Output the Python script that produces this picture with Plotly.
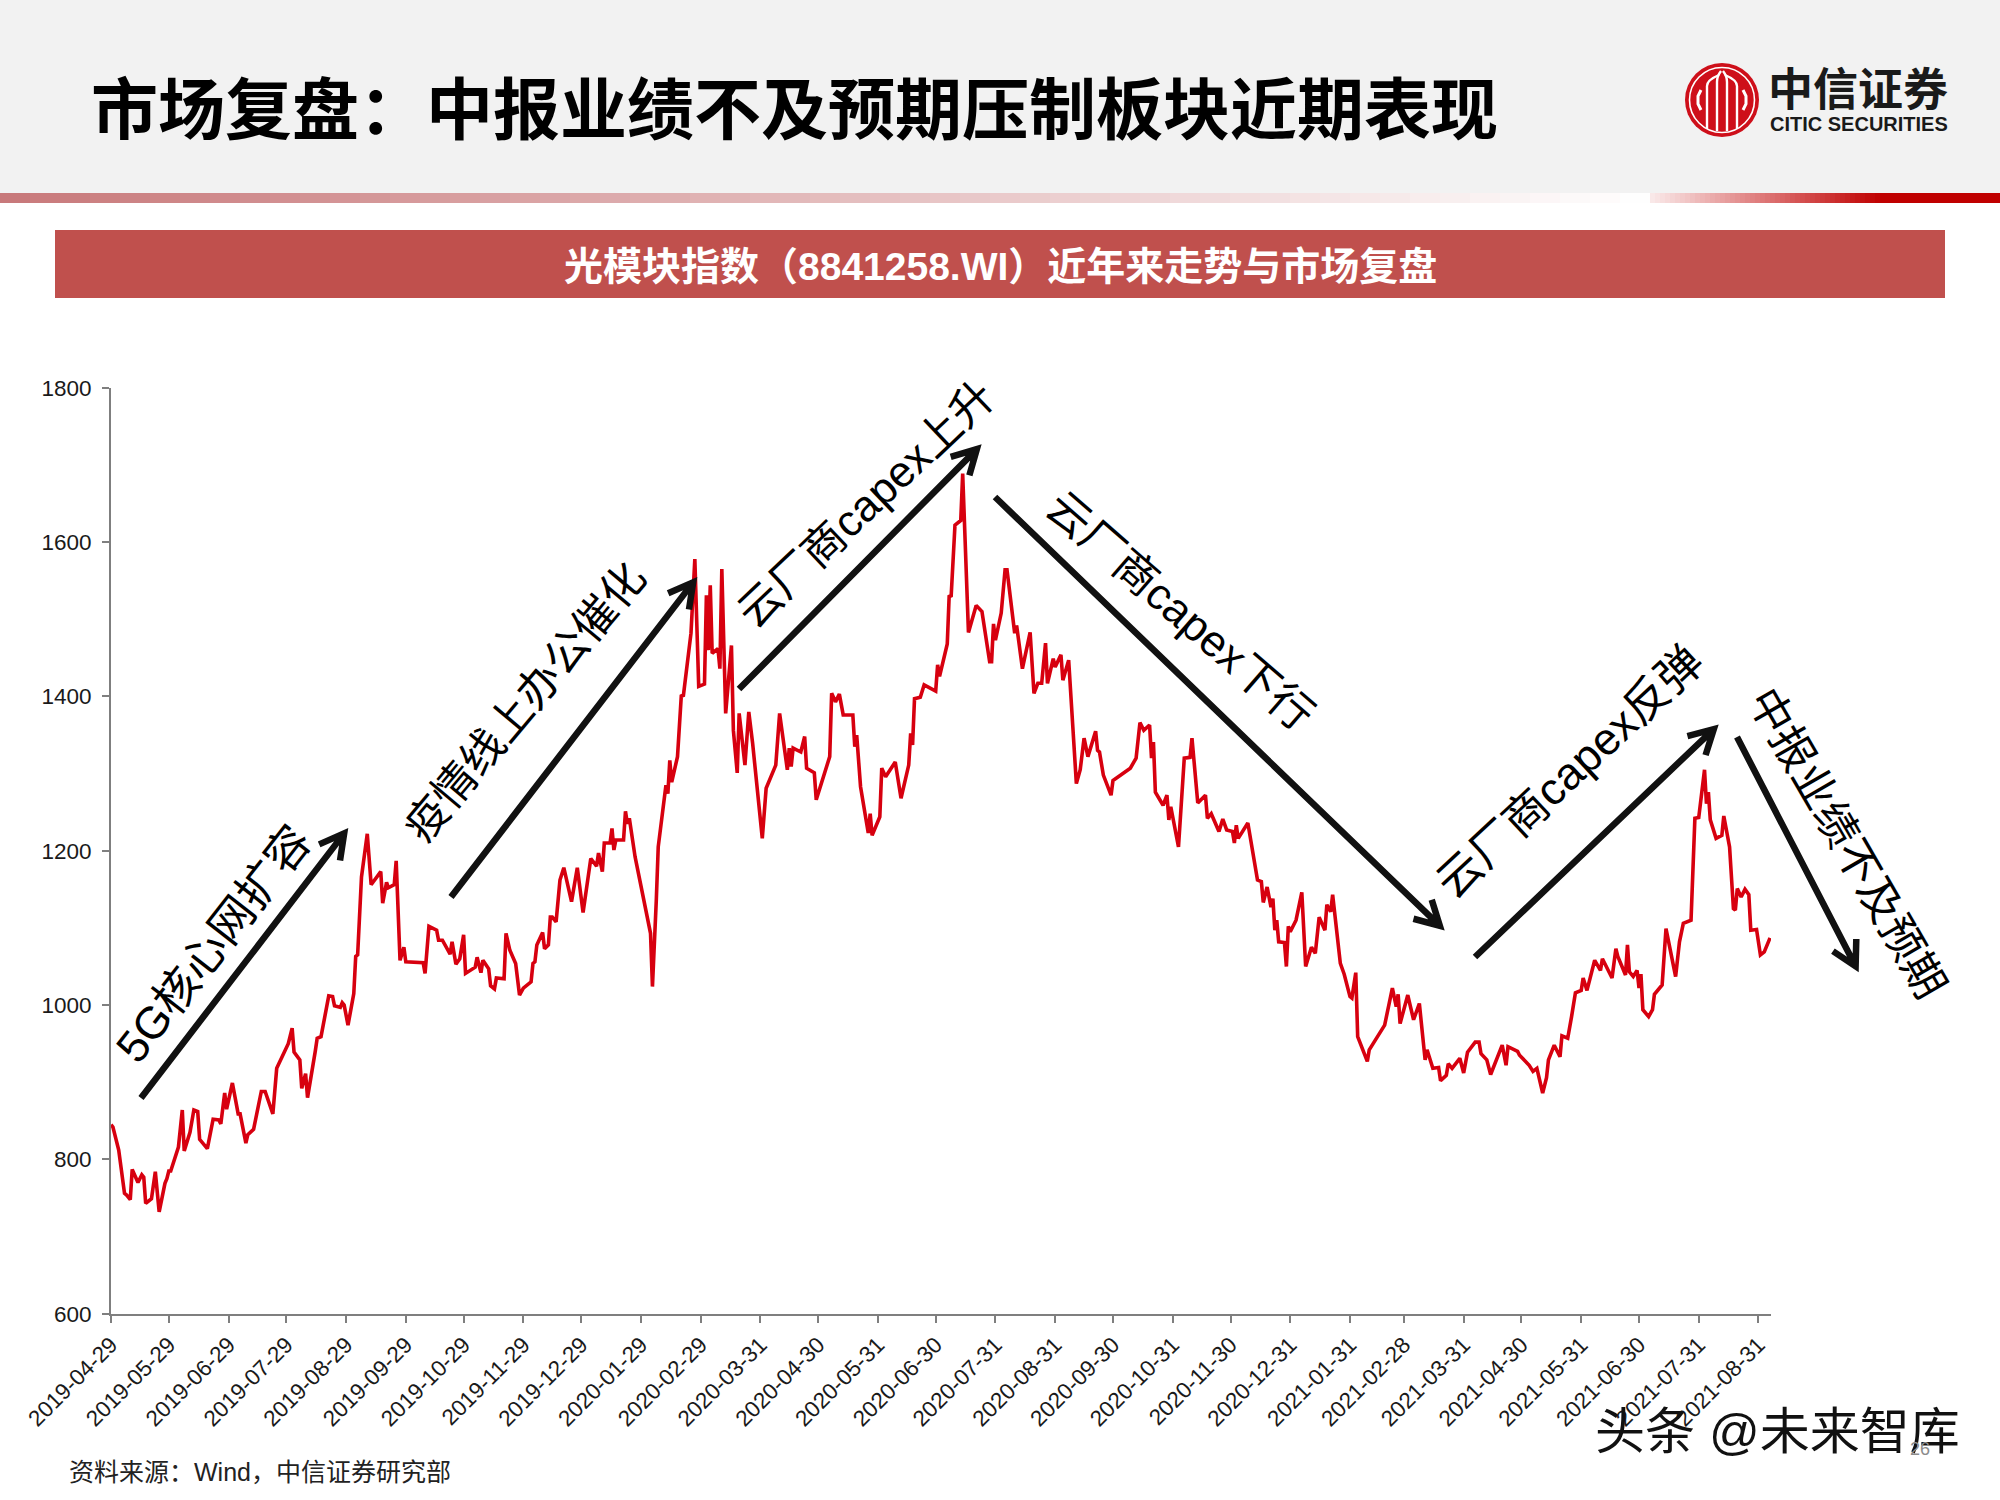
import math
from datetime import date, timedelta
import plotly.graph_objects as go

# ---------- data ----------
START = date(2019, 4, 29)
day_offset = [0,1,4,7,8,10,11,14,16,17,18,21,23,25,28,29,30,31,35,37,38,41,43,45,46,50,53,56,57,59,60,63,66,67,70,71,74,78,80,81,84,86,92,94,95,98,99,101,102,106,107,109,112,113,115,116,119,120,121,123,126,127,128,130,133,135,140,141,143,144,147,148,150,152,153,162,163,165,169,170,172,176,177,179,181,183,184,189,190,192,193,196,197,199,200,204,205,207,210,212,214,218,219,220,221,224,225,227,228,229,231,233,235,239,242,245,249,252,253,255,256,259,260,261,262,266,267,268,269,272,280,281,
283,284,288,289,290,291,294,296,297,301,303,305,308,309,310,311,312,315,316,317,319,322,323,325,326,329,331,333,338,340,345,347,351,352,353,354,358,360,361,365,366,373,374,376,378,380,385,386,387,389,393,394,395,399,400,402,407,410,414,415,416,417,420,422,428,429,430,434,435,436,438,441,442,445,449,452,456,457,458,459,462,464,465,467,469,470,473,477,479,481,483,485,486,489,490,493,494,497,501,503,505,507,511,512,513,515,519,520,529,532,534,536,539,540,541,542,546,548,549,550,554,557,560,561,564,568,569,571,575,577,579,582,583,584,585,590,
595,597,598,600,602,603,604,605,606,609,610,611,612,615,618,620,623,625,627,630,631,633,634,638,640,643,644,646,647,652,653,661,665,667,668,669,673,674,676,679,682,683,686,689,690,693,694,696,700,702,704,708,710,711,714,716,722,724,725,730,731,736,738,740,743,745,746,749,752,753,756,758,760,763,764,766,770,773,774,779,781,782,784,786,787,788,790,792,793,794,795,797,798,800,801,805,807,812,814,816,820,822,824,827,828,829,830,833,836,837,840,842,843,844,846,848,850,851,854,856,858,861]
index_close = [845,842,812,756,754,748,787,770,780,777,743,749,784,732,769,775,785,785,816,864,811,835,864,862,826,814,852,851,846,886,865,899,859,859,821,832,839,888,888,881,859,918,950,970,939,929,892,911,880,940,957,959,998,1012,1011,999,997,1003,1000,974,1015,1063,1065,1166,1222,1156,1173,1132,1159,1152,1156,1187,1058,1075,1056,1055,1041,1102,1097,1084,1084,1066,1082,1053,1060,1091,1041,1049,1062,1042,1058,1047,1025,1021,1035,1034,1093,1071,1054,1013,1022,1030,1054,1056,1078,1094,1073,1078,1114,1114,1108,1162,1178,1134,1178,1120,1190,1180,1197,1173,1210,1210,1229,1201,1214,1214,1251,1235,1242,1192,1093,1024,
1136,1205,1285,1274,1317,1289,1322,1402,1400,1482,1578,1413,1416,1531,1460,1544,1456,1462,1436,1565,1378,1466,1356,1301,1378,1311,1380,1339,1216,1281,1311,1378,1305,1333,1309,1333,1328,1348,1307,1301,1266,1322,1404,1393,1403,1376,1376,1335,1350,1283,1223,1248,1220,1244,1307,1296,1315,1268,1311,1352,1337,1397,1399,1415,1407,1441,1426,1468,1531,1529,1622,1628,1689,1483,1518,1510,1445,1445,1494,1473,1508,1564,1564,1521,1482,1492,1436,1483,1404,1417,1417,1469,1417,1449,1438,1454,1421,1447,1287,1305,1346,1322,1355,1330,1328,1298,1272,1291,1307,1320,1366,1356,1363,1320,1341,1276,1259,1272,1240,1257,1205,1320,1321,1346,1262,1272,1242,1248,1225,1241,1227,1225,1210,1233,1216,1236,
1162,1160,1133,1153,1127,1138,1097,1110,1082,1081,1050,1102,1095,1110,1146,1050,1075,1067,1114,1097,1130,1121,1143,1054,1040,1011,1009,1042,959,927,942,974,1022,998,1014,976,1013,1002,981,1002,929,942,918,919,902,909,924,918,931,912,939,952,952,937,929,910,948,922,946,940,935,922,914,918,886,906,929,948,933,960,957,985,1016,1019,1035,1019,1058,1045,1060,1035,1073,1063,1050,1039,1078,1043,1037,1045,1022,1040,994,987,985,994,1014,1026,1099,1037,1082,1106,1110,1242,1243,1305,1261,1276,1240,1216,1220,1245,1205,1125,1123,1151,1140,1150,1143,1097,1098,1065,1069,1087]
tick_labels = ["2019-04-29","2019-05-29","2019-06-29","2019-07-29","2019-08-29","2019-09-29","2019-10-29","2019-11-29","2019-12-29","2020-01-29","2020-02-29","2020-03-31","2020-04-30","2020-05-31","2020-06-30","2020-07-31","2020-08-31","2020-09-30","2020-10-31","2020-11-30","2020-12-31","2021-01-31","2021-02-28","2021-03-31","2021-04-30","2021-05-31","2021-06-30","2021-07-31","2021-08-31"]
y_ticks = [600,800,1000,1200,1400,1600,1800]

TITLE = "市场复盘：中报业绩不及预期压制板块近期表现"
BANNER = "光模块指数（8841258.WI）近年来走势与市场复盘"
SOURCE = "资料来源：Wind，中信证券研究部"
WATERMARK = "头条 @未来智库"

# ---------- helpers (page pixels -> paper fractions) ----------
W, H = 2000, 1500
FONT = "Liberation Sans, Noto Sans CJK SC"
def px(x): return x / W
def py(y): return 1 - y / H

shapes, annos = [], []
def rect(x0, y0, x1, y1, color):
    shapes.append(dict(type="rect", xref="paper", yref="paper", x0=px(x0), x1=px(x1), y0=py(y0), y1=py(y1),
                       fillcolor=color, line=dict(width=0), layer="below"))
def text(x, y, s, size, color="#000000", angle=0, anchor="center", family=FONT):
    annos.append(dict(xref="paper", yref="paper", x=px(x), y=py(y), text=s, showarrow=False, textangle=angle,
                      xanchor=anchor, yanchor="middle", font=dict(size=size, color=color, family=family)))
def mix(a, b, t):
    return "rgb(%d,%d,%d)" % tuple(round(a[i] + (b[i] - a[i]) * t) for i in range(3))
def arrow(x0, y0, x1, y1):
    th = math.atan2(y1 - y0, x1 - x0)
    L, half = 30, math.radians(26)
    a = (x1 - L * math.cos(th - half), y1 - L * math.sin(th - half))
    b = (x1 - L * math.cos(th + half), y1 - L * math.sin(th + half))
    f = lambda p: f"{px(p[0]):.5f},{py(p[1]):.5f}"
    tip = (x1 - 3 * math.cos(th), y1 - 3 * math.sin(th))
    path = f"M{f((x0,y0))}L{f(tip)}M{f(a)}L{f(tip)}L{f(b)}"
    shapes.append(dict(type="path", xref="paper", yref="paper", path=path,
                       line=dict(color="#111111", width=6.5)))

# ---------- header ----------
rect(0, 0, 2000, 193, "#F2F2F2")
for i in range(55):
    x = i * 30
    rect(x, 193, x + 30.5, 203, mix((200, 120, 122), (255, 255, 255), (i + 0.5) / 55))
for i in range(46):
    x = 1650 + i * 5
    rect(x, 193, x + 5.5, 203, mix((250, 235, 235), (192, 0, 0), (i + 0.5) / 46))
rect(1880, 193, 2000, 203, "#C00000")
rect(55, 230, 1945, 298, "#C0504D")
text(89, 110, f"<b>{TITLE}</b>", 67, "#000000", anchor="left")
text(1000, 266, f"<b>{BANNER}</b>", 39, "#FFFFFF")

# ---------- logo ----------
cx, cy = 1722, 100
def circle(r, fill, line=None, lw=0):
    shapes.append(dict(type="circle", xref="paper", yref="paper", x0=px(cx - r), x1=px(cx + r), y0=py(cy + r), y1=py(cy - r),
                       fillcolor=fill, line=dict(color=line or fill, width=lw)))
circle(37, "#CE0F1A")
circle(32.5, "rgba(0,0,0,0)", "#FFFFFF", 1.6)
for dx, top, bot in [(-15, -20, 29), (-5, -24, 31), (5, -24, 31), (15, -20, 29)]:
    xa = cx + dx
    shapes.append(dict(type="path", xref="paper", yref="paper",
                       path=f"M{px(xa):.5f},{py(cy + bot):.5f}L{px(xa):.5f},{py(cy + top + 6):.5f}"
                            f"Q{px(xa):.5f},{py(cy + top):.5f} {px(cx + (dx * 0.2)):.5f},{py(cy + top - 5):.5f}",
                       line=dict(color="#FFFFFF", width=2.4)))
for sgn in (-1, 1):
    shapes.append(dict(type="path", xref="paper", yref="paper",
                       path=f"M{px(cx + sgn * 21):.5f},{py(cy - 10):.5f}L{px(cx + sgn * 24):.5f},{py(cy - 4):.5f}"
                            f"L{px(cx + sgn * 24):.5f},{py(cy + 4):.5f}L{px(cx + sgn * 21):.5f},{py(cy + 10):.5f}",
                       line=dict(color="#FFFFFF", width=3)))
text(1766, 91, "<b>中信证券</b>", 45, "#1A1A1A", anchor="left")
text(1768, 124, "<b>CITIC SECURITIES</b>", 20, "#1A1A1A", anchor="left")

# ---------- arrows and rotated notes ----------
arrow(141, 1098, 346, 831)
arrow(451, 897, 695, 580)
arrow(739, 689, 979, 447)
arrow(995, 497, 1442, 928)
arrow(1475, 957, 1716, 727)
arrow(1737, 737, 1857, 969)
text(213, 944, "5G核心网扩容", 45, angle=-52)
text(525, 702, "疫情线上办公催化", 43.5, angle=-50)
text(865, 504, "云厂商capex上升", 43.7, angle=-43.5)
text(1180, 610, "云厂商capex下行", 44, angle=41)
text(1569, 772, "云厂商capex反弹", 45, angle=-43)
text(1848, 843, "中报业绩不及预期", 43.7, angle=60)

# ---------- footer ----------
text(67, 1472, SOURCE, 25, "#222222", anchor="left")
text(1593, 1432, WATERMARK, 50, "#111111", anchor="left")
text(1920, 1449, "26", 18, "#8C8C8C")

# ---------- chart ----------
dates = [START + timedelta(days=d) for d in day_offset]
end = START + timedelta(days=861.5)

fig = go.Figure(go.Scatter(x=dates, y=index_close, mode="lines",
                           line=dict(color="#D7000F", width=3.6), hoverinfo="skip", showlegend=False))
fig.update_layout(
    width=W, height=H, margin=dict(l=0, r=0, t=0, b=0, autoexpand=False),
    paper_bgcolor="#FFFFFF", plot_bgcolor="rgba(0,0,0,0)",
    shapes=shapes, annotations=annos, showlegend=False,
    font=dict(family=FONT, color="#1A1A1A"),
    xaxis=dict(domain=[111 / W, 1771 / W], type="date", range=[START.isoformat(), f"{end.isoformat()} 12:00"],
               tickmode="array", tickvals=tick_labels, ticktext=tick_labels, tickangle=-45,
               tickfont=dict(size=22.5, color="#1A1A1A"), ticks="outside", ticklen=7, tickwidth=1.5,
               tickcolor="#7F7F7F", showline=True, linecolor="#7F7F7F", linewidth=2, showgrid=False, zeroline=False),
    yaxis=dict(domain=[1 - 1313.7 / H, 1 - 387.8 / H], range=[600, 1800], tickmode="array", tickvals=y_ticks,
               tickfont=dict(size=22.5, color="#1A1A1A"), ticks="outside", ticklen=7, tickwidth=1.5, ticklabelstandoff=6,
               tickcolor="#7F7F7F", showline=True, linecolor="#7F7F7F", linewidth=2, showgrid=False, zeroline=False),
)
fig.write_html("out.html", config={"displayModeBar": False},
               post_script="document.body.style.margin='0';document.documentElement.style.overflow='hidden';")
